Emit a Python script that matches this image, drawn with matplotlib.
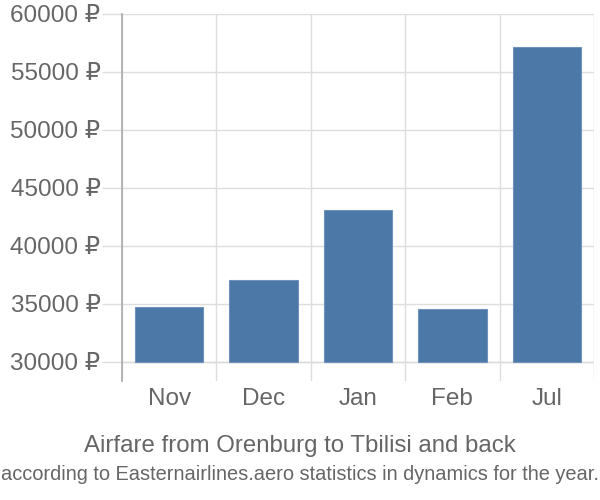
import numpy as np
import matplotlib.pyplot as plt
from matplotlib.ticker import FuncFormatter

plt.rcParams['font.family'] = ['Liberation Sans', 'DejaVu Sans']

months = ['Nov', 'Dec', 'Jan', 'Feb', 'Jul']
prices = [34760, 37070, 43100, 34550, 57130]
yticks = [30000, 35000, 40000, 45000, 50000, 55000, 60000]

fig = plt.figure(figsize=(6, 5), dpi=100)
ax = fig.add_axes([122 / 600, 1 - 381 / 500, 472 / 600, 367 / 500])

x = np.arange(len(months))
ax.bar(x, [p - 30000 for p in prices], bottom=30000, width=0.725,
       color='#4c78a8', edgecolor='#6f93bd', linewidth=0.8, zorder=3)

ax.set_xlim(-0.5, len(months) - 0.5)
ax.set_ylim(28360, 60000)
ax.set_yticks(yticks)
ax.yaxis.set_major_formatter(FuncFormatter(lambda v, p: f'{int(v)} ₽'))
ax.set_xticks(x)
ax.set_xticklabels(months)
ax.set_xticks(np.arange(-0.5, len(months)), minor=True)

ax.grid(axis='y', which='major', color='#dddddd', linewidth=1, zorder=0)
ax.grid(axis='x', which='minor', color='#dddddd', linewidth=1, zorder=0)
ax.axhline(30000, color='#cccccc', linewidth=1, zorder=1)

ax.tick_params(axis='y', which='major', length=14.4, width=1, color='#dddddd',
               labelsize=17.5, labelcolor='#666666', pad=1)
ax.tick_params(axis='x', which='major', length=0, labelsize=17.5,
               labelcolor='#666666', pad=5)
ax.tick_params(axis='x', which='minor', length=0)

for s in ['top', 'right', 'bottom']:
    ax.spines[s].set_visible(False)
ax.spines['left'].set_color('#aaaaaa')
ax.spines['left'].set_linewidth(1.2)

fig.text(0.5, 1 - 446 / 500, 'Airfare from Orenburg to Tbilisi and back',
         ha='center', va='center', fontsize=17.3, color='#666666')
fig.text(0.5, 1 - 475 / 500,
         'according to Easternairlines.aero statistics in dynamics for the year.',
         ha='center', va='center', fontsize=14.4, color='#666666')

fig.savefig('out.png', dpi=100)
